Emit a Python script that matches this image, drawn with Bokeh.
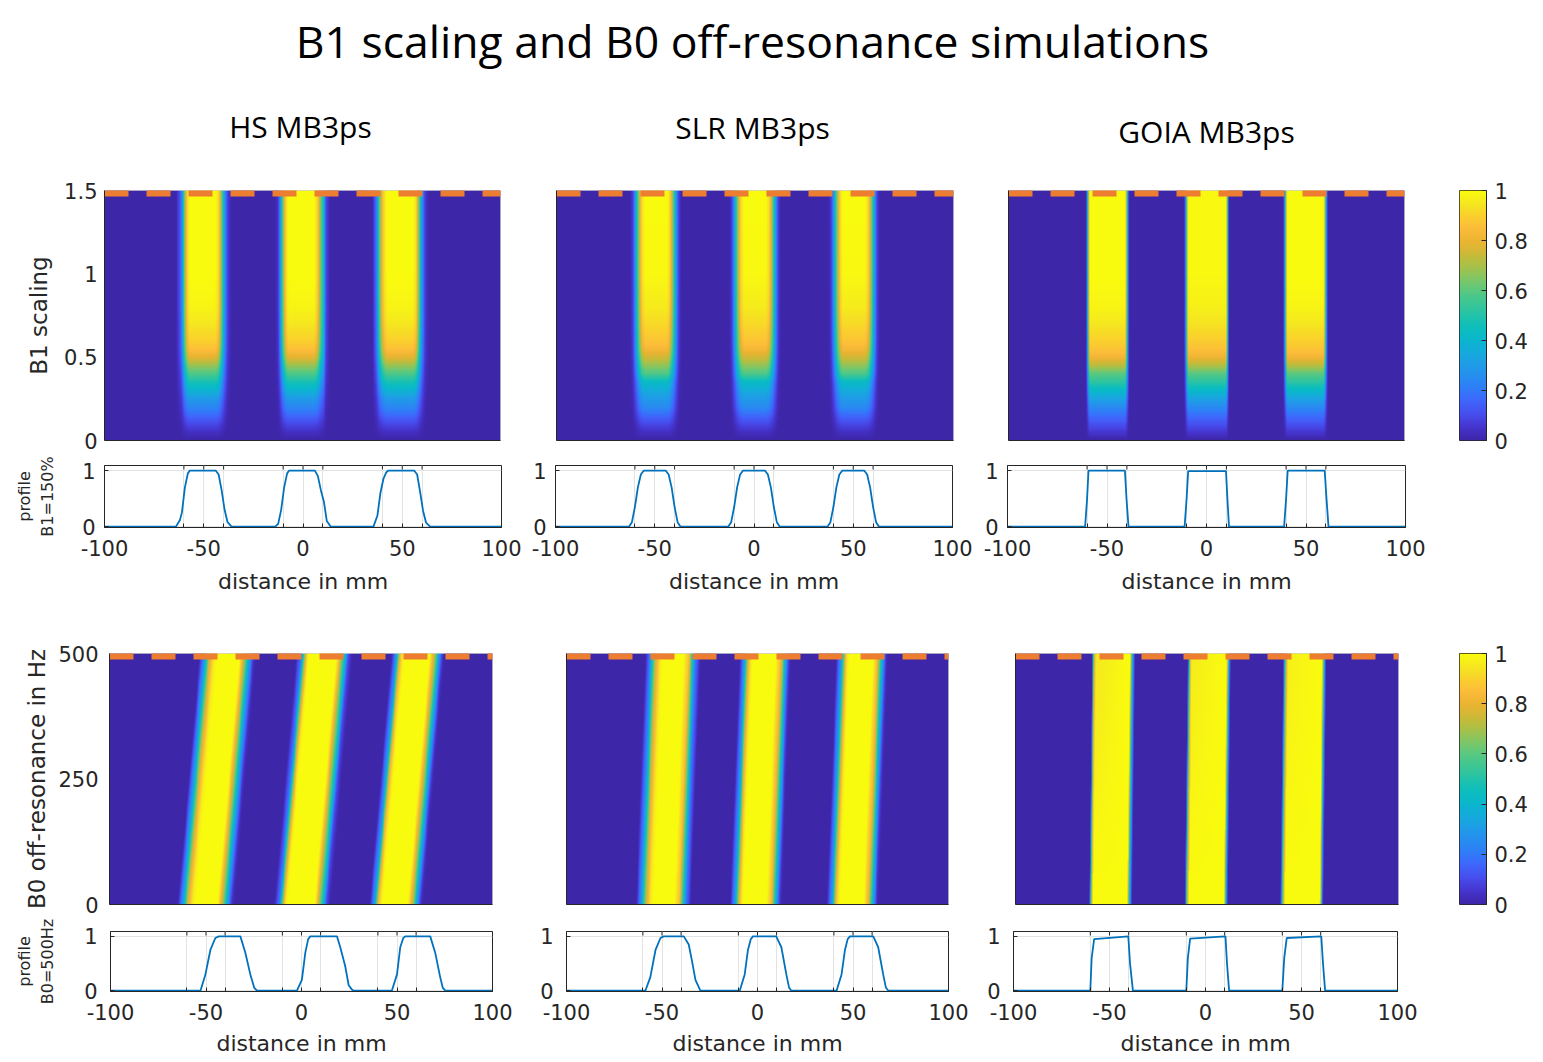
import numpy as np
from bokeh.plotting import figure
from bokeh.models import Range1d, FixedTicker, LinearColorMapper
from bokeh.layouts import column, row
from bokeh.embed import file_html
from bokeh.resources import INLINE
from bokeh.core.properties import value

# ------------------------------------------------------------------ data
figure_title = "B1 scaling and B0 off-resonance simulations"
pulse_names = ["HS MB3ps", "SLR MB3ps", "GOIA MB3ps"]

x_limits = [-100, 100]
x_tick_values = [-100, -50, 0, 50, 100]
x_tick_labels = ["-100", "-50", "0", "50", "100"]
slice_edge_ticks = [-60, -40, -10, 10, 40, 60]

b1_max = 1.5
b1_ticks = [0, 0.5, 1, 1.5]
b1_tick_labels = ["0", "0.5", "1", "1.5"]
b0_max = 500
b0_ticks = [0, 250, 500]
b0_tick_labels = ["0", "250", "500"]
cbar_ticks = [0, 0.2, 0.4, 0.6, 0.8, 1]
cbar_tick_labels = ["0", "0.2", "0.4", "0.6", "0.8", "1"]

# slice signal in the band centre versus B1 scaling
b1_levels = [0.0, 0.05, 0.1, 0.15, 0.2, 0.25, 0.3, 0.35, 0.4, 0.45, 0.5, 0.55, 0.6, 0.7, 0.8, 1.0, 1.5]
hs_b1_signal = [0.0, 0.04, 0.1, 0.17, 0.24, 0.3, 0.39, 0.48, 0.58, 0.68, 0.79, 0.86, 0.9, 0.95, 0.98, 1.0, 1.0]
slr_b1_signal = [0.0, 0.04, 0.1, 0.17, 0.25, 0.3, 0.36, 0.43, 0.58, 0.67, 0.76, 0.83, 0.87, 0.92, 0.96, 0.99, 1.0]
goia_b1_signal = [0.0, 0.06, 0.12, 0.18, 0.25, 0.33, 0.42, 0.52, 0.6, 0.72, 0.82, 0.87, 0.9, 0.95, 0.98, 1.0, 1.0]

# slice shift (mm) at 500 Hz off-resonance
b0_shift_mm = [11.5, 5.0, 1.5]

# profiles at B1 = 150 %
hs_b1_x = [-100, -64, -62, -61, -59.5, -58, -57, -44, -42.5, -41, -39.5, -38, -36,
           -14, -12.5, -11, -9.5, -8, -7, 6, 7.5, 9, 10.5, 12, 14,
           35.5, 37.5, 39, 40.5, 42, 43, 56, 57.5, 59, 60.5, 62, 64, 100]
hs_b1_y = [0, 0, 0.12, 0.25, 0.7, 0.95, 1, 1, 0.93, 0.65, 0.3, 0.08, 0,
           0, 0.05, 0.3, 0.7, 0.95, 1, 1, 0.9, 0.65, 0.45, 0.1, 0,
           0, 0.2, 0.6, 0.85, 0.97, 1, 1, 0.93, 0.62, 0.28, 0.07, 0, 0]
slr_b1_x = [-100, -63, -61.5, -60, -58.5, -57, -55.5, -44.5, -43, -41.5, -40, -38.5, -37,
            -13, -11.5, -10, -8.5, -7, -5.5, 5.5, 7, 8.5, 10, 11.5, 13,
            37, 38.5, 40, 41.5, 43, 44.5, 55.5, 57, 58.5, 60, 61.5, 63, 100]
slr_b1_y = [0, 0, 0.08, 0.35, 0.7, 0.93, 1, 1, 0.93, 0.7, 0.35, 0.08, 0,
            0, 0.08, 0.35, 0.7, 0.93, 1, 1, 0.93, 0.7, 0.35, 0.08, 0,
            0, 0.08, 0.35, 0.7, 0.93, 1, 1, 0.93, 0.7, 0.35, 0.08, 0, 0]
goia_b1_x = [-100, -61, -60, -59.3, -41, -40.2, -39.2, -11, -10, -9.2, 9.8, 10.5, 11.3,
             39, 40, 40.8, 59.4, 60.3, 61.3, 100]
goia_b1_y = [0, 0, 0.5, 1, 1, 0.5, 0, 0, 0.5, 0.99, 0.99, 0.5, 0,
             0, 0.5, 1, 1, 0.5, 0, 0]

# profiles at B0 = 500 Hz
hs_b0_x = [-100, -52.9, -50.3, -47.7, -45.1, -43.3, -32, -29.4, -26.8, -24.7, -23.3,
           -2.4, 0.2, 2, 3.5, 4.6, 18.6, 20.3, 22.9, 24.7, 26.4, 27.3,
           47.3, 50, 51.7, 53.3, 54.3, 67.4, 70, 72.6, 74, 75.3, 100]
hs_b0_y = [0, 0, 0.3, 0.75, 0.97, 1, 1, 0.7, 0.3, 0.05, 0,
           0, 0.2, 0.7, 0.95, 1, 1, 0.8, 0.45, 0.1, 0.02, 0,
           0, 0.3, 0.8, 0.97, 1, 1, 0.7, 0.25, 0.05, 0, 0]
slr_b0_x = [-100, -58.7, -56.1, -53.4, -50.8, -49.1, -38.6, -36, -34.3, -32.5, -29.9,
            -9.3, -6.7, -5, -3.5, -2.4, 9.8, 12.5, 15.1, 16.5, 17.7,
            41.4, 44, 45.8, 47.2, 48.4, 60.6, 63.2, 65.8, 67.2, 68.5, 100]
slr_b0_y = [0, 0, 0.25, 0.75, 0.97, 1, 1, 0.85, 0.55, 0.2, 0,
            0, 0.3, 0.75, 0.95, 1, 1, 0.8, 0.3, 0.06, 0,
            0, 0.3, 0.75, 0.95, 1, 1, 0.8, 0.3, 0.06, 0, 0]
goia_b0_x = [-100, -60, -59.3, -58, -40.2, -39.3, -37.8, -10, -9.2, -8, 10.4, 11.2, 12.3,
             40, 41, 42.3, 60.3, 61.2, 62.3, 100]
goia_b0_y = [0, 0, 0.6, 0.95, 1, 0.5, 0, 0, 0.6, 0.96, 1, 0.5, 0,
             0, 0.6, 0.97, 1, 0.5, 0, 0]

# parula-like colour map anchors
parula_anchors = [(62, 38, 168), (69, 52, 205), (71, 75, 235), (65, 98, 250), (50, 122, 250),
                  (40, 140, 240), (32, 155, 232), (22, 170, 220), (10, 182, 205), (12, 190, 190),
                  (35, 195, 170), (60, 198, 148), (90, 200, 128), (130, 198, 100), (170, 192, 72),
                  (205, 185, 55), (235, 180, 50), (252, 188, 58), (250, 208, 45), (245, 230, 32),
                  (249, 251, 14)]

# ------------------------------------------------------------------ styling
TICK_FONT = "DejaVu Sans"
HEAD_FONT = "Open Sans"
INK = "#262626"
ORANGE = "#ED7D31"
BLUE = "#0072BD"
GRID = "#E3E3E3"

pos = np.linspace(0, 1, len(parula_anchors))
t = np.linspace(0, 1, 256)
chan = [np.interp(t, pos, [a[k] for a in parula_anchors]) for k in range(3)]
PALETTE = ["#%02x%02x%02x" % (int(round(r)), int(round(g)), int(round(b)))
           for r, g, b in zip(*chan)]
mapper = LinearColorMapper(palette=PALETTE, low=0, high=1)

x_grid = np.linspace(x_limits[0], x_limits[1], 801)
n_rows = 250


def b1_image(px, py, signal):
    rows = np.linspace(0, b1_max, n_rows)
    prof = np.interp(x_grid, px, py)
    amp = np.interp(rows, b1_levels, signal)
    return np.ascontiguousarray(amp[:, None] * prof[None, :])


def b0_image(px, py, shift, fade_dip=False):
    rows = np.linspace(0, b0_max, n_rows)
    xs = x_grid[None, :] + shift * (1 - rows[:, None] / b0_max)
    v = np.interp(xs.ravel(), px, py).reshape(xs.shape)
    if fade_dip:
        frac = np.repeat(rows[:, None] / b0_max, v.shape[1], axis=1)
        v = np.where(v > 0.9, 1 - (1 - v) * frac, v)
    return np.ascontiguousarray(v)


def base_fig(fw, fh, bl, br, bt, bb, xr, yr, **kw):
    p = figure(frame_width=fw, frame_height=fh, x_range=xr, y_range=yr,
               output_backend="svg", toolbar_location=None,
               min_border_left=bl, min_border_right=br,
               min_border_top=bt, min_border_bottom=bb, **kw)
    p.background_fill_color = "white"
    p.border_fill_color = "white"
    return p


def style_axis(ax, size="21px"):
    ax.major_label_text_font = TICK_FONT
    ax.major_label_text_font_size = size
    ax.major_label_text_color = INK
    ax.axis_label_text_font = TICK_FONT
    ax.axis_label_text_font_style = "normal"
    ax.axis_label_text_color = INK
    ax.minor_tick_line_color = None
    ax.major_tick_line_color = INK
    ax.axis_line_color = INK


def heat_fig(img, y_end, ticks, labels, ylabel, fw, fh, bl, br, bt, bb, tick_std=8, lab_std=9):
    p = base_fig(fw, fh, bl, br, bt, bb, Range1d(*x_limits), Range1d(0, y_end))
    p.image(image=[img], x=x_limits[0], y=0, dw=x_limits[1] - x_limits[0], dh=y_end,
            color_mapper=mapper)
    p.line(x=x_limits, y=[y_end, y_end], line_color=ORANGE, line_width=12,
           line_dash="24 18")
    p.grid.visible = False
    p.outline_line_color = "#CFCFCF"
    xa = p.xaxis[0]
    style_axis(xa)
    xa.ticker = FixedTicker(ticks=[])
    xa.major_tick_in = 0
    xa.major_tick_out = 0
    ya = p.yaxis[0]
    style_axis(ya)
    ya.major_tick_in = 0
    ya.major_tick_out = 0
    if ticks:
        ya.ticker = FixedTicker(ticks=ticks)
        ya.major_label_overrides = {v: l for v, l in zip(ticks, labels)}
        ya.major_label_standoff = tick_std
        ya.axis_label = ylabel
        ya.axis_label_text_font_size = "23px"
        ya.axis_label_standoff = lab_std
    else:
        ya.ticker = FixedTicker(ticks=[])
    return p


def prof_fig(px, py, ylabel, fw, fh, bl, br, bt, bb, tick_std, xlab_std, ylab_std, ytick_std):
    y_lo, y_hi = -0.015, 1.09
    p = base_fig(fw, fh, bl, br, bt, bb, Range1d(*x_limits), Range1d(y_lo, y_hi))
    p.outline_line_color = INK
    p.grid.grid_line_color = GRID
    p.xgrid.minor_grid_line_color = GRID
    # inward tick marks along the top edge (box style)
    top_ticks = x_tick_values + slice_edge_ticks
    tick_len = 4.0 / fh * (y_hi - y_lo)
    p.segment(x0=top_ticks, y0=[y_hi] * len(top_ticks), x1=top_ticks,
              y1=[y_hi - tick_len] * len(top_ticks), line_color=INK, line_width=1)
    p.line(px, py, line_color=BLUE, line_width=1.8)
    xa = p.xaxis[0]
    style_axis(xa)
    xa.ticker = FixedTicker(ticks=x_tick_values, minor_ticks=slice_edge_ticks)
    xa.major_label_overrides = {v: l for v, l in zip(x_tick_values, x_tick_labels)}
    xa.major_tick_in = 4
    xa.major_tick_out = 0
    xa.minor_tick_line_color = INK
    xa.minor_tick_in = 4
    xa.minor_tick_out = 0
    xa.major_label_standoff = tick_std
    xa.axis_label = "distance in mm"
    xa.axis_label_text_font_size = "22px"
    xa.axis_label_standoff = xlab_std
    ya = p.yaxis[0]
    style_axis(ya)
    ya.ticker = FixedTicker(ticks=[0, 1])
    ya.major_tick_in = 4
    ya.major_tick_out = 0
    ya.major_label_standoff = ytick_std
    if ylabel:
        ya.axis_label = ylabel
        ya.axis_label_text_font_size = "16px"
        ya.axis_label_standoff = ylab_std
    return p


def cbar_fig(fh, bt, bb):
    c = base_fig(27, fh, 27, 49, bt, bb, Range1d(0, 1), Range1d(0, 1), y_axis_location="right")
    grad = np.ascontiguousarray(np.linspace(0, 1, 256)[:, None])
    c.image(image=[grad], x=0, y=0, dw=1, dh=1, color_mapper=mapper)
    c.grid.visible = False
    c.outline_line_color = INK
    c.xaxis.visible = False
    ya = c.yaxis[0]
    style_axis(ya)
    ya.ticker = FixedTicker(ticks=cbar_ticks)
    ya.major_label_overrides = {v: l for v, l in zip(cbar_ticks, cbar_tick_labels)}
    ya.major_tick_in = 5
    ya.major_tick_out = 0
    ya.major_label_standoff = 8
    return c


# ------------------------------------------------------------------ header
HDR_H = 176
hdr = figure(width=1535, height=HDR_H, x_range=Range1d(0, 1535), y_range=Range1d(HDR_H, 0),
             x_axis_type=None, y_axis_type=None, output_backend="svg",
             toolbar_location=None, min_border=0)
hdr.grid.visible = False
hdr.outline_line_color = None
hdr.text(x=[752], y=[40], text=[figure_title], text_font=value(HEAD_FONT),
         text_font_size="44.5px", text_align="center", text_baseline="middle",
         text_color="black")
hdr.text(x=[300, 752, 1206], y=[126, 127, 131], text=pulse_names,
         text_font=value(HEAD_FONT), text_font_size="30px", text_align="center",
         text_baseline="middle", text_color="black")

# ------------------------------------------------------------------ rows
img_hs_b1 = b1_image(hs_b1_x, hs_b1_y, hs_b1_signal)
img_slr_b1 = b1_image(slr_b1_x, slr_b1_y, slr_b1_signal)
img_goia_b1 = b1_image(goia_b1_x, goia_b1_y, goia_b1_signal)
img_hs_b0 = b0_image(hs_b0_x, hs_b0_y, b0_shift_mm[0])
img_slr_b0 = b0_image(slr_b0_x, slr_b0_y, b0_shift_mm[1])
img_goia_b0 = b0_image(goia_b0_x, goia_b0_y, b0_shift_mm[2], fade_dip=True)

h1 = heat_fig(img_hs_b1, b1_max, b1_ticks, b1_tick_labels, "B1 scaling", 396, 250, 104, 28, 14, 13,
              tick_std=7, lab_std=9)
h2 = heat_fig(img_slr_b1, b1_max, None, None, None, 397, 250, 28, 27, 14, 13)
h3 = heat_fig(img_goia_b1, b1_max, None, None, None, 396, 250, 28, 28, 14, 13)
c1 = cbar_fig(250, 14, 13)
row_b = row(h1, h2, h3, c1)

p1 = prof_fig(hs_b1_x, hs_b1_y, "profile\nB1=150%", 397, 62, 104, 27, 12, 83, 12, 10, 22, 9)
p2 = prof_fig(slr_b1_x, slr_b1_y, None, 397, 62, 27, 28, 12, 83, 12, 10, 22, 9)
p3 = prof_fig(goia_b1_x, goia_b1_y, None, 398, 62, 27, 27, 12, 83, 12, 10, 22, 9)
row_c = row(p1, p2, p3)

g1 = heat_fig(img_hs_b0, b0_max, b0_ticks, b0_tick_labels, "B0 off-resonance in Hz", 383, 251,
              109, 38, 43, 13, tick_std=11, lab_std=5)
g2 = heat_fig(img_slr_b0, b0_max, None, None, None, 382, 251, 36, 30, 43, 13)
g3 = heat_fig(img_goia_b0, b0_max, None, None, None, 383, 251, 37, 34, 43, 13)
c2 = cbar_fig(251, 43, 13)
row_d = row(g1, g2, g3, c2)

q1 = prof_fig(hs_b0_x, hs_b0_y, "profile\nB0=500Hz", 382, 60, 110, 38, 14, 69, 12, 8, 24, 13)
q2 = prof_fig(slr_b0_x, slr_b0_y, None, 382, 60, 36, 30, 14, 69, 12, 8, 24, 13)
q3 = prof_fig(goia_b0_x, goia_b0_y, None, 384, 60, 35, 35, 14, 69, 12, 8, 24, 13)
row_e = row(q1, q2, q3)

page = column(hdr, row_b, row_c, row_d, row_e)

open("out.html", "w").write(file_html(page, INLINE))
